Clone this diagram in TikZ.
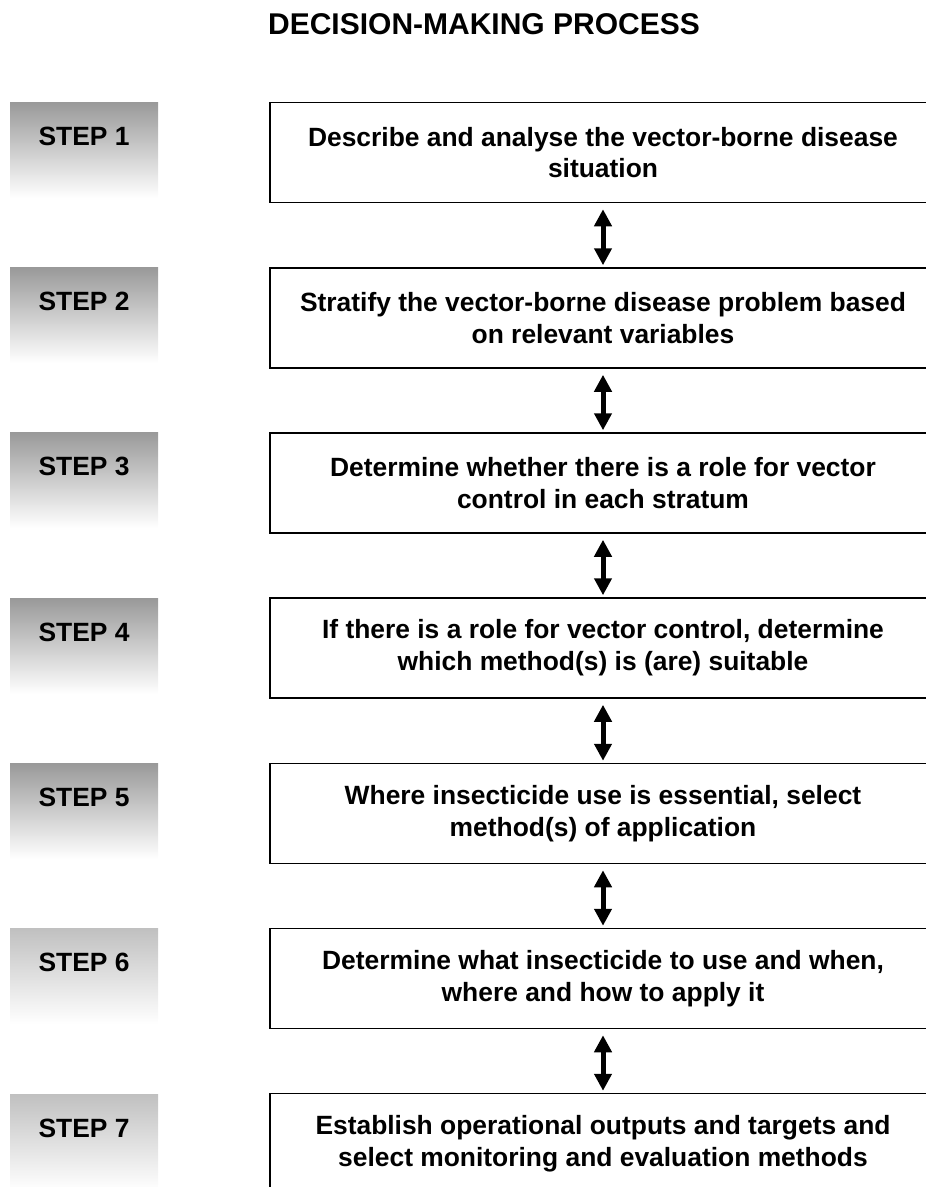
\documentclass[tikz,border=0pt]{standalone}
\usepackage{fontspec}
\setmainfont{Liberation Sans}
\usetikzlibrary{arrows.meta}

\definecolor{StepTop}{HTML}{999999}
\definecolor{StepTopLight}{HTML}{C0C0C0}

\begin{document}
\begin{tikzpicture}[x=1pt, y=-1pt,
  steplabel/.style={minimum width=148pt, minimum height=96pt, inner xsep=0pt, inner ysep=0pt,
    text height=43.5pt, text depth=52.5pt, top color=StepTop, bottom color=white,
    font=\fontsize{26.4}{31.7}\selectfont\bfseries},
  taskbox/.style={draw, line width=1.5pt, minimum width=666pt, minimum height=100pt,
    align=center, font=\fontsize{26.4}{31.7}\selectfont\bfseries},
  link/.style={>={Triangle[width=17pt,length=17pt]}, <->,
    line width=5pt, shorten <=6pt, shorten >=2pt}]

  \useasboundingbox (0,0) rectangle (926,1187);

  %%%%%%%%%% Title %%%%%%%%%%
  \node (title) [anchor=base, font=\fontsize{30}{36}\selectfont\bfseries] at (484,34) {DECISION-MAKING PROCESS};

  %%%%%%%%%% Step labels %%%%%%%%%%
  \node (s1) [steplabel] at (84,150) {STEP 1};
  \node (s2) [steplabel] at (84,315) {STEP 2};
  \node (s3) [steplabel] at (84,480) {STEP 3};
  \node (s4) [steplabel] at (84,646) {STEP 4};
  \node (s5) [steplabel] at (84,811) {STEP 5};
  \node (s6) [steplabel, top color=StepTopLight] at (84,976) {STEP 6};
  \node (s7) [steplabel, top color=StepTopLight] at (84,1142) {STEP 7};

  %%%%%%%%%% Boxes %%%%%%%%%%
  \node (b1) [taskbox] at (603,152.5) {Describe and analyse the vector-borne disease\\situation};
  \node (b2) [taskbox] at (603,318) {Stratify the vector-borne disease problem based\\on relevant variables};
  \node (b3) [taskbox] at (603,483) {Determine whether there is a role for vector\\control in each stratum};
  \node (b4) [taskbox] at (603,648) {If there is a role for vector control, determine\\which method(s) is (are) suitable};
  \node (b5) [taskbox] at (603,813.5) {Where insecticide use is essential, select\\method(s) of application};
  \node (b6) [taskbox] at (603,978.5) {Determine what insecticide to use and when,\\where and how to apply it};
  \node (b7) [taskbox] at (603,1143.5) {Establish operational outputs and targets and\\select monitoring and evaluation methods};

  %%%%%%%%%% Arrows %%%%%%%%%%
  \draw [link] (b1.south) -- (b2.north);
  \draw [link] (b2.south) -- (b3.north);
  \draw [link] (b3.south) -- (b4.north);
  \draw [link] (b4.south) -- (b5.north);
  \draw [link] (b5.south) -- (b6.north);
  \draw [link] (b6.south) -- (b7.north);

\end{tikzpicture}
\end{document}
